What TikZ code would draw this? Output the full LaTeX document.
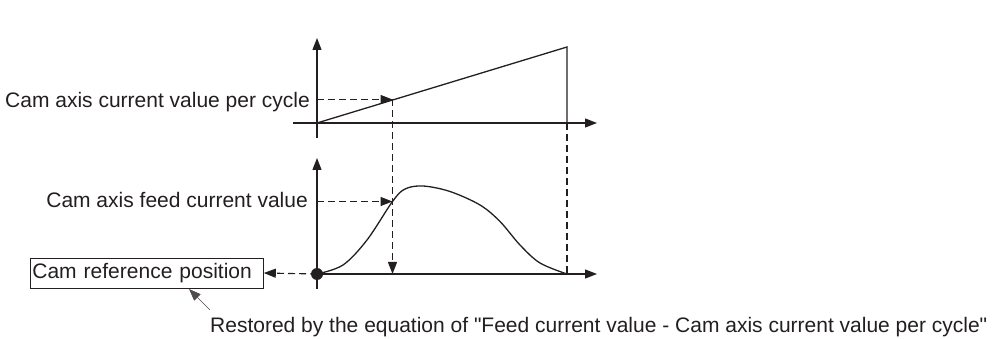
\documentclass[tikz,border=0pt]{standalone}
\usepackage{fontspec}
\setmainfont{Liberation Sans}[Ligatures=ResetAll]
\usetikzlibrary{arrows.meta}
\definecolor{ink}{HTML}{231F20}
\newcommand\straightdq{\XeTeXglyph\XeTeXcharglyph"0022\relax}
\begin{document}
\begin{tikzpicture}[x=1pt,y=-1pt,
  line join=miter,
  tip/.style={-{Triangle[length=12pt,width=9pt]}},
  axisline/.style={draw=ink,line width=1.3pt,tip},
  curveline/.style={draw=ink,line width=1.3pt},
  guide/.style={draw=ink,line width=1.1pt,dash pattern=on 7pt off 4pt},
  lbl/.style={text=ink,font=\fontsize{21}{25}\selectfont,inner sep=0pt},
  refbox/.style={draw=ink,line width=0.8pt,text=ink,font=\fontsize{21}{25}\selectfont,
    text width=229pt,inner xsep=2pt,inner ysep=0pt,minimum height=30pt,align=left},
  note/.style={draw=ink!80,line width=0.6pt,tip}
]
\useasboundingbox (0,0) rectangle (997,339);
% top chart
\coordinate (tyb) at (317,138);
\coordinate (tyt) at (317,38);
\coordinate (txl) at (293,123);
\coordinate (txr) at (597,123);
\coordinate (to) at (317,123);
\coordinate (tpk) at (567,47);
\coordinate (tend) at (567,123);
\coordinate (tya) at (317,99.5);
\coordinate (tp) at (392.5,99.5);
\draw[axisline] (tyb) -- (tyt);
\draw[axisline] (txl) -- (txr);
\draw[curveline] (to) -- (tpk) -- (tend);
\draw[guide,tip] (tya) -- (tp);
\node[lbl,anchor=base east] (l1) at (310,108) {Cam axis current value per cycle};
% bottom chart
\coordinate (byb) at (317,289);
\coordinate (byt) at (317,158);
\coordinate (bo) at (317,274);
\coordinate (bxr) at (597,274);
\coordinate (bp) at (392.5,274);
\coordinate (bend) at (567,274);
\coordinate (bya) at (317,201.5);
\coordinate (bc) at (392.5,201.5);
\draw[axisline] (byb) -- (byt);
\draw[axisline] (bo) -- (bxr);
\draw[curveline] plot[smooth,tension=0.55] coordinates {(317,274) (343,265) (367,240) (392.5,201.5) (405,189) (423,186) (450,191.5) (480,205) (500,221.5) (520,245) (540,263) (567,274)};
\draw[guide,tip] (bya) -- (bc);
\draw[guide,tip] (tp) -- (bp);
\draw[guide] (tend) -- (bend);
\node[lbl,anchor=base east] (l2) at (308,208) {Cam axis feed current value};
\node[refbox,anchor=west] (ref) at (30,273) {Cam reference position};
\draw[guide,tip] (bo) -- (ref.east);
\fill[ink] (bo) circle (6);
\node[lbl,anchor=base west] (l3) at (210,333) {Restored by the equation of \straightdq Feed current value - Cam axis current value per cycle\straightdq};
\coordinate (ns) at (210,310);
\draw[note] (ns) -- (189,289);
\end{tikzpicture}
\end{document}
